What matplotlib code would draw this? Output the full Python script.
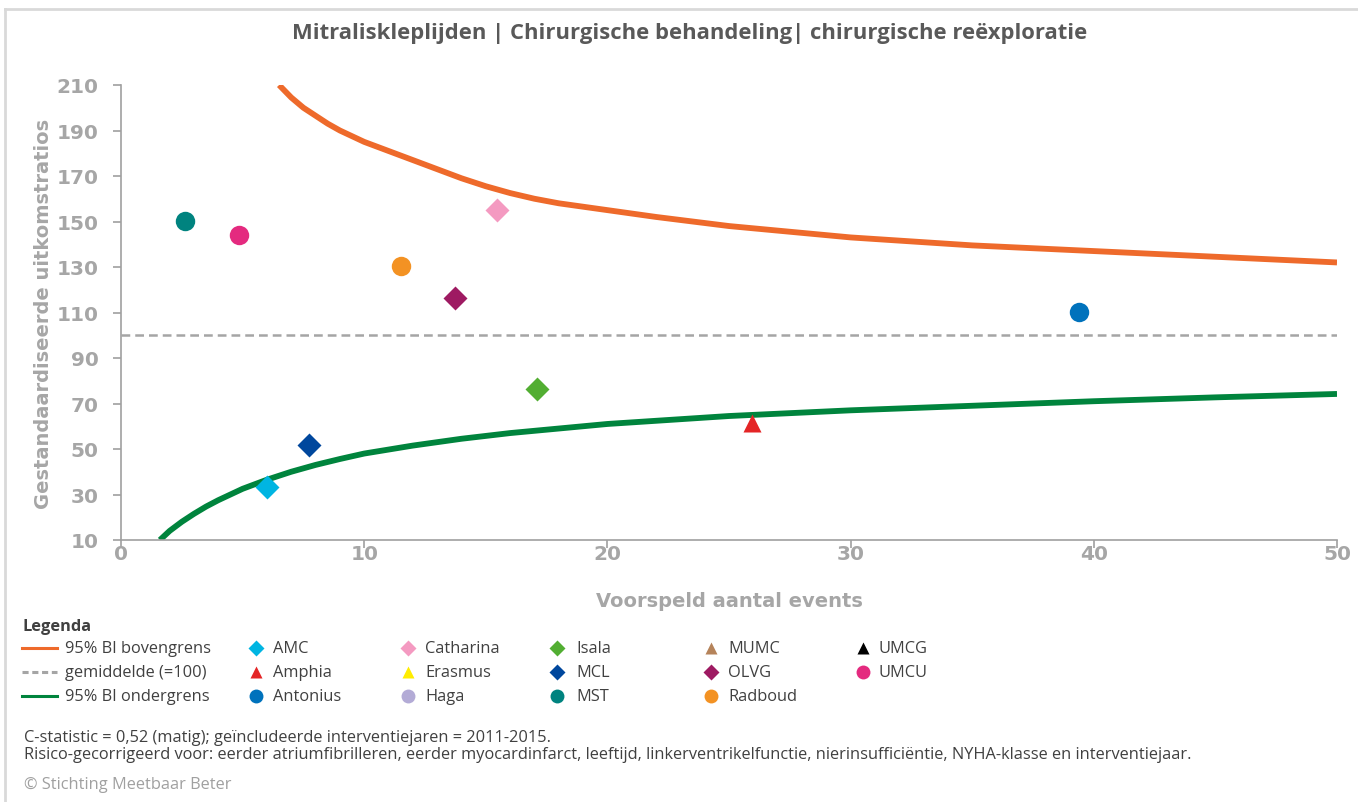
import numpy as np
import matplotlib
matplotlib.use('Agg')
import matplotlib.pyplot as plt
from matplotlib.lines import Line2D

# funnel limits
upper_x = [6.5, 7, 7.5, 8, 8.5, 9, 9.5, 10, 11, 12, 13, 14, 15, 16, 17, 18, 20, 22, 25, 28, 30, 35, 40, 45, 50]
upper_y = [210, 204.5, 200, 196.5, 193, 190, 187.5, 185, 181, 177, 173, 169, 165.5, 162.5, 160, 158, 155, 152, 148, 145, 143, 139.5, 137, 134.5, 132]
lower_x = [1.6, 2, 2.5, 3, 3.5, 4, 5, 6, 7, 8, 9, 10, 12, 14, 16, 18, 20, 25, 30, 35, 40, 45, 50]
lower_y = [10, 14, 18, 21.5, 24.7, 27.5, 32.5, 36.5, 40, 43, 45.6, 48, 51.5, 54.5, 57, 59, 61, 64.5, 67, 69, 71, 72.7, 74.2]
gem_x = [0, 50]
gem_y = [100, 100]

# hospitals
names = ['AMC', 'Amphia', 'Antonius', 'Catharina', 'Erasmus', 'Haga', 'Isala', 'MCL', 'MST',
         'MUMC', 'OLVG', 'Radboud', 'UMCG', 'UMCU']
markers = ['D', '^', 'o', 'D', '^', 'o', 'D', 'D', 'o', '^', 'D', 'o', '^', 'o']
colors = ['#00B5E2', '#E42526', '#0072BC', '#F49AC1', '#FFED00', '#B3ABD6', '#52AE32', '#00479D',
          '#00837F', '#B5835A', '#9E1A62', '#F39223', '#000000', '#E42A7F']
pred = [6.0, 25.95, 39.4, 15.45, None, None, 17.1, 7.75, 2.65, None, 13.75, 11.5, None, 4.85]
smr = [33.3, 61.4, 110.2, 155.1, None, None, 76.3, 51.8, 150.2, None, 116.4, 130.4, None, 144.1]

title = 'Mitraliskleplijden | Chirurgische behandeling| chirurgische reëxploratie'
note1 = 'C-statistic = 0,52 (matig); geïncludeerde interventiejaren = 2011-2015.'
note2 = ('Risico-gecorrigeerd voor: eerder atriumfibrilleren, eerder myocardinfarct, leeftijd, '
         'linkerventrikelfunctie, nierinsufficiëntie, NYHA-klasse en interventiejaar.')

W, H = 1358, 803
fig = plt.figure(figsize=(W / 100, H / 100), dpi=100)
ax = fig.add_axes([121 / W, 1 - 541 / H, (1337 - 121) / W, (541 - 86) / H])

grey = '#A6A6A6'
ax.plot(upper_x, upper_y, color='#EE6A2B', lw=4.2, solid_capstyle='butt', solid_joinstyle='round')
ax.plot(lower_x, lower_y, color='#00843D', lw=4.2, solid_capstyle='butt', solid_joinstyle='round')
ax.plot(gem_x, gem_y, color='#A5A5A5', lw=1.8, ls=(0, (3.5, 2)))

for n, m, c, px, py in zip(names, markers, colors, pred, smr):
    if px is None:
        continue
    ms = 14 if m == 'o' else 12.5
    ax.plot([px], [py], marker=m, color=c, ms=ms, ls='none', mec='none')

ax.set_xlim(0, 50)
ax.set_ylim(10, 210)
ax.set_xticks(np.arange(0, 51, 10))
ax.set_yticks(np.arange(10, 211, 20))
for s in ['top', 'right']:
    ax.spines[s].set_visible(False)
for s in ['left', 'bottom']:
    ax.spines[s].set_color('#A0A0A0')
    ax.spines[s].set_linewidth(1.2)
ax.tick_params(colors='#A0A0A0', length=6, width=1.2, labelcolor=grey, labelsize=14.5)
ax.tick_params(axis='y', pad=10)
ax.tick_params(axis='x', pad=-3)
for lbl in ax.get_xticklabels() + ax.get_yticklabels():
    lbl.set_fontweight('bold')
ax.set_xlabel('Voorspeld aantal events', fontsize=14, fontweight='bold', color=grey, labelpad=20)
ax.set_ylabel('Gestandaardiseerde uitkomstratios', fontsize=14, fontweight='bold', color=grey, labelpad=3)

fig.text(690 / W, 1 - 33 / H, title, ha='center', va='center', fontsize=15.8,
         fontweight='bold', color='#595959', family='Open Sans')

# border
fig.add_artist(Line2D([5 / W, 1], [1 - 10 / H, 1 - 10 / H], transform=fig.transFigure, color='#D9D9D9', lw=2))
fig.add_artist(Line2D([5 / W, 5 / W], [0, 1 - 10 / H], transform=fig.transFigure, color='#D9D9D9', lw=2))

# legend
tc = '#404040'
fs = 11.8
fig.text(22 / W, 1 - 627 / H, 'Legenda', ha='left', va='center', fontsize=fs, fontweight='bold',
         color=tc, family='Open Sans')
rows = [649, 673, 697]
line_items = [('95% BI bovengrens', '#EE6A2B', '-'), ('gemiddelde (=100)', '#A5A5A5', (0, (2, 1.2))),
              ('95% BI ondergrens', '#00843D', '-')]
for (lab, c, ls), ry in zip(line_items, rows):
    fig.add_artist(Line2D([22 / W, 57 / W], [1 - ry / H, 1 - ry / H], transform=fig.transFigure,
                          color=c, lw=2.2, ls=ls))
    fig.text(65 / W, 1 - ry / H, lab, ha='left', va='center', fontsize=fs, color=tc, family='Open Sans')

col_mx = [256, 408, 557, 711, 863]
col_tx = [273, 425, 576, 728, 879]
for i, (n, m, c) in enumerate(zip(names, markers, colors)):
    col, row = divmod(i, 3)
    ry = 1 - rows[row] / H
    ms = 10 if m == 'o' else 8.5
    fig.add_artist(Line2D([col_mx[col] / W], [ry], transform=fig.transFigure, marker=m, color=c,
                          ms=ms, ls='none', mec='none'))
    fig.text(col_tx[col] / W, ry, n, ha='left', va='center', fontsize=fs, color=tc, family='Open Sans')

fig.text(24 / W, 1 - 738 / H, note1, ha='left', va='center', fontsize=fs, color=tc, family='Open Sans')
fig.text(24 / W, 1 - 755 / H, note2, ha='left', va='center', fontsize=fs, color=tc, family='Open Sans')
fig.text(24 / W, 1 - 785 / H, '© Stichting Meetbaar Beter', ha='left', va='center', fontsize=fs,
         color='#A0A0A0', family='Open Sans')

fig.savefig('out.png', dpi=100)
